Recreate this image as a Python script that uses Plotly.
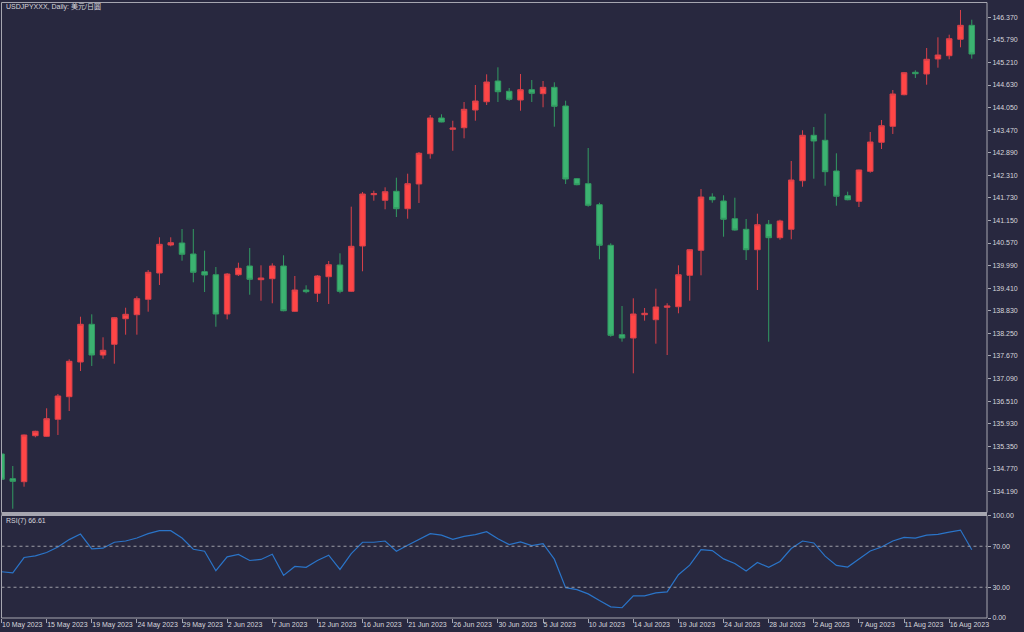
import plotly.graph_objects as go
from datetime import datetime

dates = [
    "2023-05-10", "2023-05-11", "2023-05-12", "2023-05-14", "2023-05-15", "2023-05-16", "2023-05-17",
    "2023-05-18", "2023-05-19", "2023-05-21", "2023-05-22", "2023-05-23", "2023-05-24", "2023-05-25",
    "2023-05-26", "2023-05-28", "2023-05-29", "2023-05-30", "2023-05-31",
    "2023-06-01", "2023-06-02", "2023-06-04", "2023-06-05", "2023-06-06", "2023-06-07", "2023-06-08",
    "2023-06-09", "2023-06-11", "2023-06-12", "2023-06-13", "2023-06-14", "2023-06-15", "2023-06-16",
    "2023-06-18", "2023-06-19", "2023-06-20", "2023-06-21", "2023-06-22", "2023-06-23", "2023-06-25",
    "2023-06-26", "2023-06-27", "2023-06-28", "2023-06-29", "2023-06-30",
    "2023-07-02", "2023-07-03", "2023-07-04", "2023-07-05", "2023-07-06", "2023-07-07", "2023-07-09",
    "2023-07-10", "2023-07-11", "2023-07-12", "2023-07-13", "2023-07-14", "2023-07-16", "2023-07-17",
    "2023-07-18", "2023-07-19", "2023-07-20", "2023-07-21", "2023-07-23", "2023-07-24", "2023-07-25",
    "2023-07-26", "2023-07-27", "2023-07-28", "2023-07-30", "2023-07-31",
    "2023-08-01", "2023-08-02", "2023-08-03", "2023-08-04", "2023-08-06", "2023-08-07", "2023-08-08",
    "2023-08-09", "2023-08-10", "2023-08-11", "2023-08-13", "2023-08-14", "2023-08-15", "2023-08-16",
    "2023-08-17", "2023-08-18",
]

opens = [
    135.150, 134.515, 134.438, 135.620, 135.604, 136.041, 136.622, 137.513, 138.482, 137.693,
    137.968, 138.626, 138.729, 139.124, 139.800, 140.519, 140.571, 140.288, 139.834, 139.756,
    138.747, 139.756, 139.980, 139.628, 139.654, 139.980, 138.816, 139.363, 139.279, 139.705,
    140.006, 139.330, 140.494, 141.812, 141.668, 141.899, 141.452, 142.087, 142.865, 143.783,
    143.492, 143.533, 143.988, 144.201, 144.733, 144.469, 144.245, 144.510, 144.407, 144.571,
    144.091, 142.223, 142.095, 141.555, 140.512, 138.215, 138.130, 138.729, 138.600, 138.919,
    138.934, 139.741, 140.383, 141.753, 141.650, 141.195, 140.923, 140.399, 141.051, 140.707,
    140.923, 142.172, 143.338, 143.210, 142.421, 141.786, 141.642, 142.413, 143.158, 143.569,
    144.381, 144.957, 144.913, 145.299, 145.383, 145.805, 146.164,
]
highs = [
    135.252, 134.841, 135.650, 135.748, 136.324, 136.691, 137.583, 138.677, 138.739, 138.148,
    138.670, 138.908, 139.201, 139.877, 140.717, 140.717, 140.931, 140.931, 140.373, 139.954,
    139.800, 140.065, 140.442, 139.998, 140.049, 140.255, 139.723, 139.484, 139.749, 140.108,
    140.306, 141.504, 141.881, 141.915, 142.002, 142.249, 142.352, 142.909, 143.860, 143.878,
    143.713, 144.194, 144.631, 144.905, 145.085, 144.553, 144.913, 144.759, 144.733, 144.700,
    144.227, 142.241, 143.012, 141.606, 140.563, 138.952, 139.150, 138.901, 139.397, 139.022,
    139.998, 140.409, 141.958, 141.848, 141.797, 141.735, 141.188, 141.324, 141.162, 141.170,
    142.678, 143.467, 143.551, 143.893, 142.876, 141.889, 142.455, 143.423, 143.731, 144.502,
    144.965, 145.008, 145.581, 145.856, 145.923, 146.558, 146.308,
]
lows = [
    134.430, 133.744, 134.309, 135.579, 135.590, 135.638, 136.254, 137.282, 137.411, 137.598,
    137.470, 138.215, 138.215, 138.806, 139.492, 140.486, 140.116, 139.561, 139.312, 138.420,
    138.610, 139.723, 139.242, 139.088, 139.022, 138.816, 138.800, 139.279, 139.055, 139.004,
    139.279, 139.312, 139.844, 141.658, 141.437, 141.239, 141.195, 141.599, 142.737, 143.672,
    142.942, 143.261, 143.713, 144.117, 144.194, 144.227, 143.970, 144.194, 144.058, 143.559,
    142.087, 142.053, 141.504, 140.152, 138.163, 138.035, 137.223, 138.575, 137.984, 137.693,
    138.765, 139.088, 139.741, 141.606, 140.733, 140.887, 140.134, 139.363, 138.035, 140.656,
    140.666, 142.017, 142.223, 142.043, 141.529, 141.668, 141.496, 142.377, 142.986, 143.372,
    144.366, 144.810, 144.638, 145.075, 145.291, 145.599, 145.306,
]
closes = [
    134.500, 134.448, 135.638, 135.733, 136.057, 136.640, 137.531, 138.482, 137.693, 137.814,
    138.652, 138.739, 139.140, 139.818, 140.537, 140.579, 140.281, 139.818, 139.749, 138.747,
    139.774, 139.921, 139.638, 139.672, 139.980, 138.831, 139.363, 139.320, 139.723, 140.013,
    139.330, 140.486, 141.830, 141.840, 141.889, 141.452, 142.095, 142.876, 143.783, 143.680,
    143.526, 144.006, 144.219, 144.708, 144.458, 144.263, 144.510, 144.417, 144.571, 144.083,
    142.215, 142.069, 141.540, 140.512, 138.199, 138.130, 138.747, 138.765, 138.927, 138.952,
    139.756, 140.399, 141.753, 141.683, 141.180, 140.905, 140.399, 141.041, 140.707, 141.136,
    142.190, 143.338, 143.192, 142.403, 141.771, 141.683, 142.447, 143.166, 143.585, 144.399,
    144.947, 144.921, 145.291, 145.401, 145.820, 146.164, 145.427,
]
rsi = [
    45.1, 44.1, 59.0, 60.6, 63.9, 69.3, 76.5, 81.9, 67.4, 68.1,
    73.9, 75.1, 78.0, 82.3, 85.2, 85.2, 78.0, 67.1, 65.2, 46.1,
    59.6, 62.0, 56.1, 57.1, 62.2, 41.6, 50.3, 49.4, 56.1, 61.3,
    47.4, 62.9, 73.9, 73.9, 75.1, 65.2, 71.0, 76.8, 82.3, 80.9,
    76.8, 79.7, 81.3, 84.2, 77.4, 71.6, 74.2, 70.7, 72.6, 57.4,
    29.6, 27.7, 23.5, 17.0, 10.9, 10.0, 21.6, 21.6, 24.5, 25.5,
    42.2, 51.6, 66.8, 65.8, 57.7, 53.2, 45.8, 54.2, 49.4, 55.2,
    67.8, 75.1, 73.2, 60.3, 51.3, 49.7, 57.7, 65.4, 69.3, 75.1,
    78.7, 78.0, 80.9, 81.6, 83.8, 85.8, 66.61,
]

price_ticks = [134.190, 134.770, 135.350, 135.930, 136.510, 137.090, 137.670, 138.250,
               138.830, 139.410, 139.990, 140.570, 141.150, 141.730, 142.310, 142.890,
               143.470, 144.050, 144.630, 145.210, 145.790, 146.370]
rsi_ticks = [0, 30, 70, 100]
rsi_levels = [30, 70]
date_tick_step = 4

title_text = "USDJPYXXX, Daily: 美元/日圓"
rsi_label = "RSI(7) 66.61"

# ---- styling ----
W, H = 1024, 632
BG = "#28283f"
UP = "#ff4646"
UP_LINE = "#d8404a"
DOWN = "#3cb371"
DOWN_LINE = "#329a62"
FRAME = "#a6a6b0"
TXT = "#d6d6dc"
FONT = "Liberation Sans, Noto Sans CJK TC, sans-serif"
FS = 7


def px_x(p):
    return p / W


def px_y(p):
    return 1 - p / H


idx = list(range(len(dates)))
tick_idx = idx[::date_tick_step]
tick_txt = [datetime.strptime(dates[i], "%Y-%m-%d").strftime("%-d %b %Y") for i in tick_idx]

fig = go.Figure()
fig.add_trace(go.Candlestick(
    x=idx, open=opens, high=highs, low=lows, close=closes,
    increasing=dict(line=dict(color=UP_LINE, width=1), fillcolor=UP),
    decreasing=dict(line=dict(color=DOWN_LINE, width=1), fillcolor=DOWN),
    whiskerwidth=0, showlegend=False, hoverinfo="skip",
    xaxis="x", yaxis="y",
))
fig.add_trace(go.Scatter(
    x=idx, y=rsi, mode="lines", line=dict(color="#2a74c8", width=1.2),
    showlegend=False, hoverinfo="skip", xaxis="x", yaxis="y2",
))

x_left, x_right = 1.5, 987
main_top, main_bot = 2.5, 512.5
rsi_top, rsi_bot = 515.5, 618

xr0 = 0.0
xr1 = (x_right - 1.7) / 11.28

fig.update_layout(
    width=W, height=H,
    margin=dict(l=0, r=0, t=0, b=0, autoexpand=False),
    paper_bgcolor=BG, plot_bgcolor=BG,
    font=dict(family=FONT, size=FS, color=TXT),
    xaxis=dict(
        domain=[px_x(x_left), px_x(x_right)], range=[xr0, xr1], anchor="y2",
        rangeslider=dict(visible=False), showgrid=False, zeroline=False,
        tickmode="array", tickvals=tick_idx, ticktext=tick_txt,
        ticks="outside", ticklen=4, tickcolor=FRAME, tickwidth=1,
        ticklabelposition="outside right", tickangle=0, automargin=False,
        tickfont=dict(family=FONT, size=FS, color=TXT),
        showline=False,
    ),
    yaxis=dict(
        domain=[px_y(main_bot), px_y(main_top)],
        range=[146.37 - (main_bot - 17.3) / 38.92, 146.37 + (17.3 - main_top) / 38.92],
        side="right", anchor="x", showgrid=False, zeroline=False, automargin=False,
        tickmode="array", tickvals=price_ticks, ticktext=[f"{v:.3f}" for v in price_ticks],
        ticks="outside", ticklen=3, tickcolor=FRAME,
        tickfont=dict(family=FONT, size=FS, color=TXT),
    ),
    yaxis2=dict(
        domain=[px_y(rsi_bot), px_y(rsi_top)], range=[0, 100],
        side="right", anchor="x", showgrid=False, zeroline=False, automargin=False,
        tickmode="array", tickvals=rsi_ticks, ticktext=[f"{v:.2f}" for v in rsi_ticks],
        ticks="outside", ticklen=3, tickcolor=FRAME,
        tickfont=dict(family=FONT, size=FS, color=TXT),
    ),
)

shapes = []
# panel frames
shapes.append(dict(type="rect", xref="paper", yref="paper",
                   x0=px_x(x_left), x1=px_x(x_right), y0=px_y(main_bot), y1=px_y(main_top),
                   line=dict(color=FRAME, width=1)))
shapes.append(dict(type="line", xref="paper", yref="paper",
                   x0=px_x(x_left), x1=px_x(x_right), y0=px_y(514), y1=px_y(514),
                   line=dict(color=FRAME, width=2)))
shapes.append(dict(type="rect", xref="paper", yref="paper",
                   x0=px_x(x_left), x1=px_x(x_right), y0=px_y(rsi_bot), y1=px_y(rsi_top),
                   line=dict(color=FRAME, width=1)))
for lv in rsi_levels:
    shapes.append(dict(type="line", xref="x domain", yref="y2", x0=0, x1=1, y0=lv, y1=lv,
                       line=dict(color="#9c9ca6", width=1, dash="dot")))
fig.update_layout(shapes=shapes)

fig.add_annotation(xref="paper", yref="paper", x=px_x(4), y=px_y(7), text=title_text,
                   showarrow=False, xanchor="left", yanchor="middle",
                   font=dict(family=FONT, size=FS, color=TXT))
fig.add_annotation(xref="paper", yref="paper", x=px_x(4), y=px_y(521), text=rsi_label,
                   showarrow=False, xanchor="left", yanchor="middle",
                   font=dict(family=FONT, size=FS, color=TXT))

fig.write_html("out.html")
